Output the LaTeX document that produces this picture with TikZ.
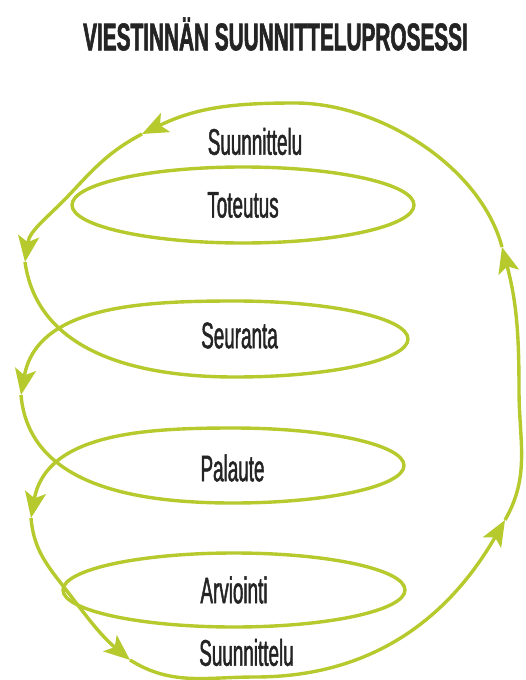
\documentclass[tikz,border=0pt]{standalone}
\usepackage{fontspec}
\usetikzlibrary{arrows.meta,shapes.geometric}
\newfontfamily\labelfont[FakeStretch=0.51,FakeBold=1.2]{Liberation Sans}
\newfontfamily\titlefont[FakeStretch=0.54,FakeBold=1.5]{Liberation Sans}
\definecolor{coilgreen}{RGB}{182,202,46}
\definecolor{labelgray}{RGB}{36,36,36}

\begin{document}
\begin{tikzpicture}
  [x=1pt,y=1pt,
   coil/.style={draw=coilgreen,line width=3.4pt},
   arrowed/.style={coil,-{Stealth[length=26pt,width=21pt,inset=6pt]}},
   ring/.style={ellipse,draw=coilgreen,line width=3.4pt,minimum width=342pt,minimum height=76pt},
   phaselabel/.style={font=\labelfont\fontsize{37}{42}\selectfont,text=labelgray,inner sep=0pt}]
  \useasboundingbox[fill=white] (0,0) rectangle (526,-680);

  \node (title) at (275.5,-34) [font=\titlefont\bfseries\fontsize{38.5}{42}\selectfont,text=labelgray,inner sep=0pt] {VIESTINNÄN SUUNNITTELUPROSESSI};

  % waypoints of the coil
  \coordinate (rmid) at (519,-390);
  \coordinate (a7) at (502,-247);
  \coordinate (top) at (295,-103);
  \coordinate (a1) at (142,-134);
  \coordinate (cross1) at (71,-193);
  \coordinate (a2) at (25,-262);
  \coordinate (low2) at (235,-377);
  \coordinate (a3) at (21,-395);
  \coordinate (low3) at (233,-503);
  \coordinate (a4) at (31,-518);
  \coordinate (cross4) at (60,-582);
  \coordinate (a5) at (130,-660);
  \coordinate (bot) at (255,-677);
  \coordinate (a6) at (505,-520);

  \node (toteutus) at (243,-205) [ring,phaselabel] {Toteutus};
  \node (arviointi) at (234,-590) [ring,phaselabel,minimum height=74pt] {Arviointi};
  \node (suun1) at (255,-141.5) [phaselabel] {Suunnittelu};
  \node (seuranta) at (239.5,-335.5) [phaselabel] {Seuranta};
  \node (palaute) at (232.5,-468) [phaselabel] {Palaute};
  \node (suun2) at (246.5,-652.5) [phaselabel] {Suunnittelu};

  \draw[arrowed] (rmid) to[out=90,in=-75] (a7);
  \draw[arrowed] (a7) to[out=105,in=0,looseness=0.85] (top) to[out=180,in=26] (a1);
  \draw[arrowed] (a1) to[out=208,in=47] (cross1) to[out=227,in=82] (a2);
  \draw[arrowed] (a2) to[out=-82,in=180] (low2)
    arc[start angle=-90,end angle=90,x radius=173,y radius=38] to[out=180,in=80] (a3);
  \draw[arrowed] (a3) to[out=-85,in=180] (low3)
    arc[start angle=-90,end angle=90,x radius=171,y radius=37.5] to[out=180,in=80] (a4);
  \draw[arrowed] (a4) to[out=-85,in=128] (cross4) to[out=-52,in=140] (a5);
  \draw[arrowed] (a5) to[out=-32,in=180] (bot) to[out=0,in=240] (a6);
  \draw[coil] (a6) to[out=60,in=-90] (rmid);
\end{tikzpicture}
\end{document}
